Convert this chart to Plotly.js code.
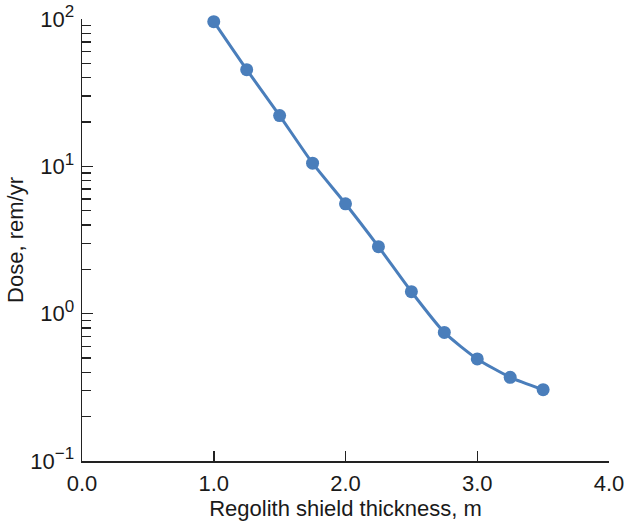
<!DOCTYPE html>
<html>
<head>
<meta charset="utf-8">
<script src="https://cdn.plot.ly/plotly-3.0.1.min.js"></script>
<style>html,body{margin:0;padding:0;background:#fff;}#chart{width:629px;height:522px;}</style>
</head>
<body>
<div id="chart"></div>
<script>
const thickness = [1.0, 1.25, 1.5, 1.75, 2.0, 2.25, 2.5, 2.75, 3.0, 3.25, 3.5];
const dose = [95.9, 45.3, 22.1, 10.5, 5.57, 2.85, 1.41, 0.746, 0.493, 0.370, 0.305];
const xTickVals = [0, 1, 2, 3, 4];
const xTickText = ["0.0", "1.0", "2.0", "3.0", "4.0"];
const yTickVals = [0.1, 1, 10, 100];
const yExponents = ["−1", "0", "1", "2"];

const yTickText = yExponents.map(e => '10<sup><span style="font-size:17px">' + e + '</span></sup>');
const trace = {
  x: thickness, y: dose, type: 'scatter', mode: 'lines+markers', cliponaxis: false,
  line: {color: '#4a7ebb', width: 3, shape: 'spline', smoothing: 0.6},
  marker: {color: '#4a7ebb', size: 13}
};
const tickFont = {family: 'Liberation Sans, Arial, sans-serif', size: 22, color: '#1a1a1a'};
const titleFont = {family: 'Liberation Sans, Arial, sans-serif', size: 22, color: '#1a1a1a'};
const layout = {
  width: 629, height: 522,
  margin: {l: 82, r: 20, t: 19, b: 61},
  paper_bgcolor: '#fff', plot_bgcolor: '#fff',
  showlegend: false, font: tickFont,
  xaxis: {
    range: [0, 4], tickvals: xTickVals, ticktext: xTickText,
    ticks: 'inside', ticklen: 10, tickwidth: 1.5, tickcolor: '#222',
    showline: true, linecolor: '#222', linewidth: 1.5, showgrid: false, zeroline: false,
    tickfont: tickFont, ticklabelstandoff: 2,
    title: {text: 'Regolith shield thickness, m', font: titleFont, standoff: 4}
  },
  yaxis: {
    type: 'log', range: [-1, 2], tickvals: yTickVals, ticktext: yTickText,
    ticks: 'inside', ticklen: 11, tickwidth: 1.5, tickcolor: '#222',
    minor: {ticks: 'inside', ticklen: 9, tickwidth: 1.5, tickcolor: '#222', dtick: 'D1', showgrid: false},
    showline: true, linecolor: '#222', linewidth: 1.5, showgrid: false, zeroline: false,
    tickfont: tickFont, ticklabelstandoff: 2,
    title: {text: 'Dose, rem/yr', font: titleFont, standoff: 0}
  }
};
Plotly.newPlot('chart', [trace], layout, {displayModeBar: false, staticPlot: true});
</script>
</body>
</html>
